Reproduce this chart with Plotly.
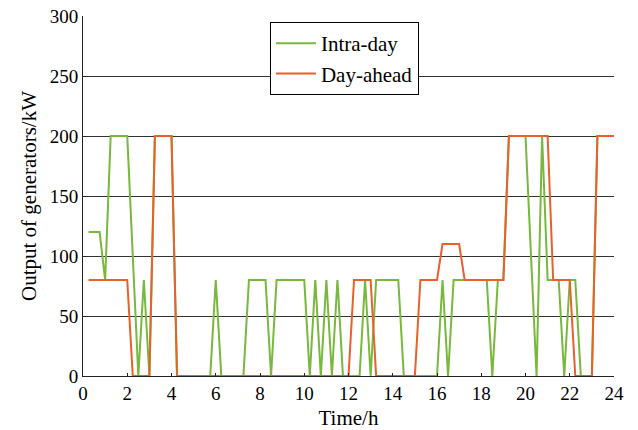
import plotly.graph_objects as go

# Intra-day output (breakpoints: time in h, output in kW)
intra_t = [0.25, 0.75, 1.0, 1.25, 2.0, 2.5, 2.75, 3.0, 3.25, 4.0, 4.25, 5.75, 6.0, 6.25,
           7.25, 7.5, 8.25, 8.5, 8.75, 10.0, 10.25, 10.5, 10.75, 11.0, 11.25, 11.5, 11.75,
           12.5, 12.75, 13.0, 13.25, 14.25, 14.5, 16.0, 16.25, 16.5, 16.75, 18.25, 18.5,
           18.75, 19.0, 19.25, 20.0, 20.5, 20.75, 21.0, 21.5, 21.75, 22.0, 22.25, 22.5,
           23.0, 23.25, 24.0]
intra_v = [120, 120, 80, 200, 200, 0, 80, 0, 200, 200, 0, 0, 80, 0,
           0, 80, 80, 0, 80, 80, 0, 80, 0, 80, 0, 80, 0,
           0, 80, 0, 80, 80, 0, 0, 80, 0, 80, 80, 0,
           80, 80, 200, 200, 0, 200, 80, 80, 0, 80, 80, 0,
           0, 200, 200]

# Day-ahead output
ahead_t = [0.25, 2.0, 2.25, 3.0, 3.25, 4.0, 4.25, 12.0, 12.25, 13.0, 13.25, 15.0, 15.25,
           16.0, 16.25, 17.0, 17.25, 19.0, 19.25, 21.0, 21.25, 22.0, 22.25, 23.0, 23.25, 24.0]
ahead_v = [80, 80, 0, 0, 200, 200, 0, 0, 80, 80, 0, 0, 80,
           80, 110, 110, 80, 80, 200, 200, 80, 80, 0, 0, 200, 200]

x_ticks = [0, 2, 4, 6, 8, 10, 12, 14, 16, 18, 20, 22, 24]
y_ticks = [0, 50, 100, 150, 200, 250, 300]

GREEN = "#78b83c"
ORANGE = "#e8602a"
FONT = "Liberation Serif"

fig = go.Figure()
fig.add_trace(go.Scatter(x=intra_t, y=intra_v, mode="lines", name="Intra-day",
                         line=dict(color=GREEN, width=2)))
fig.add_trace(go.Scatter(x=ahead_t, y=ahead_v, mode="lines", name="Day-ahead",
                         line=dict(color=ORANGE, width=2)))

fig.update_layout(
    width=638, height=430,
    margin=dict(l=83, r=24, t=16, b=54),
    paper_bgcolor="white", plot_bgcolor="white",
    font=dict(family=FONT, size=19, color="black"),
    legend=dict(x=0.352, y=0.983, xanchor="left", yanchor="top",
                bordercolor="black", borderwidth=1, bgcolor="white",
                font=dict(family=FONT, size=21), tracegroupgap=0,
                itemwidth=40),
    xaxis=dict(range=[0, 24], tickvals=x_ticks, ticktext=[str(v) for v in x_ticks],
               showgrid=False, showline=True, linecolor="#222", linewidth=1,
               ticks="inside", ticklen=3, tickcolor="#222", zeroline=False,
               title=dict(text="Time/h", font=dict(family=FONT, size=21), standoff=7),
               automargin=False),
    yaxis=dict(range=[0, 300], tickvals=y_ticks, ticktext=[str(v) for v in y_ticks],
               showgrid=True, gridcolor="#333", gridwidth=1,
               showline=True, linecolor="#222", linewidth=1,
               ticks="inside", ticklen=3, tickcolor="#222", zeroline=False,
               title=dict(text="Output of generators/kW", font=dict(family=FONT, size=21), standoff=7),
               automargin=False),
)

fig.write_html("out.html")
